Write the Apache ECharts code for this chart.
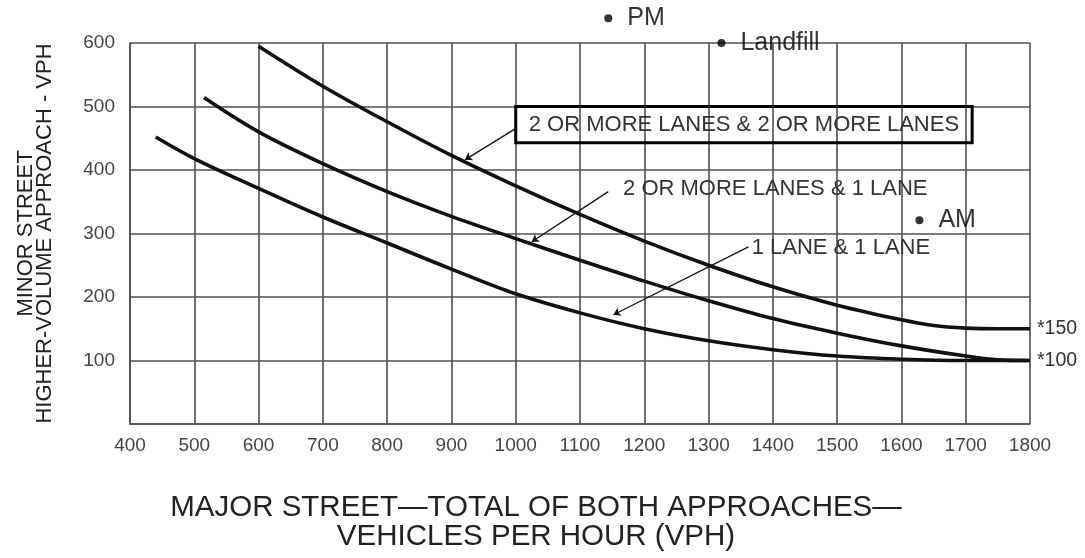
<!DOCTYPE html>
<html><head><meta charset="utf-8">
<script src="https://cdn.jsdelivr.net/npm/echarts@6/dist/echarts.min.js"></script>
<style>html,body{margin:0;padding:0;background:#fff}#c{width:1085px;height:558px}</style>
</head><body><div id="c"></div>
<script>
// ---- data ----
const curveNames = ['2 OR MORE LANES & 2 OR MORE LANES', '2 OR MORE LANES & 1 LANE', '1 LANE & 1 LANE'];
const curve2and2 = [[600,595],[700,532],[800,476],[900,423],[1000,375],[1100,330],[1200,288],[1300,250],[1400,216],[1500,187],[1600,164],[1650,155],[1700,151],[1750,150],[1800,150]];
const curve2and1 = [[515,514],[600,460],[700,410],[800,366],[900,327],[1000,292],[1100,258],[1200,225],[1300,194],[1400,166],[1500,143],[1600,123],[1700,107],[1750,101],[1800,100]];
const curve1and1 = [[440,452],[500,418],[600,371],[700,326],[800,285],[900,244],[1000,205],[1100,175],[1200,150],[1300,131],[1400,117],[1500,107],[1600,102],[1700,100],[1800,100]];
const siteNames = ['PM', 'Landfill', 'AM'];
const siteMajor = [1144, 1320, 1628];
const siteMinor = [639, 600, 321];
const xTicks = [400,500,600,700,800,900,1000,1100,1200,1300,1400,1500,1600,1700,1800];
const yTicks = [0,100,200,300,400,500,600];
// annotation anchors, in data units
const boxCorners = [[1000,500],[1710,443]];
const labelAnchors = [[1167,370],[1367,277]];
const leaders = [[[1001,466],[921,416]], [[1144,366],[1025,287]], [[1362,279],[1152,172]]];

const FONT = '"Liberation Sans", Arial, Helvetica, sans-serif';
const chart = echarts.init(document.getElementById('c'), null, {renderer: 'canvas'});

const gridLine = {color: '#505050', width: 1.6};
const curveStyle = {color: '#111', width: 3.6};
const leaderLine = (seg) => ({
  silent: true, symbol: ['none', 'arrow'], symbolSize: 7,
  label: {show: false}, emphasis: {disabled: true},
  lineStyle: {color: '#111', width: 1.3, type: 'solid'},
  data: [[{coord: seg[0]}, {coord: seg[1]}]]
});
const textLabel = (anchor, text) => ({
  silent: true, symbol: 'circle', symbolSize: 0,
  label: {show: true, position: 'right', distance: 0, formatter: text,
          fontFamily: FONT, fontSize: 22, color: '#333'},
  data: [{coord: anchor}]
});
const curveSeries = (name, data) => ({
  type: 'line', name, data, showSymbol: false, smooth: 0.35,
  lineStyle: curveStyle, itemStyle: {color: '#111'}, silent: true, z: 3
});

const s1 = curveSeries(curveNames[0], curve2and2);
s1.markLine = leaderLine(leaders[0]);
s1.markArea = {
  silent: true,
  itemStyle: {color: 'rgba(0,0,0,0)', borderColor: '#000', borderWidth: 3},
  label: {show: true, position: 'inside', formatter: curveNames[0],
          fontFamily: FONT, fontSize: 22, color: '#333'},
  data: [[{coord: boxCorners[0]}, {coord: boxCorners[1]}]]
};
s1.endLabel = {show: true, formatter: p => '*' + p.value[1], distance: 7,
               fontFamily: FONT, fontSize: 19.5, color: '#333'};

const s2 = curveSeries(curveNames[1], curve2and1);
s2.markLine = leaderLine(leaders[1]);
s2.markPoint = textLabel(labelAnchors[0], curveNames[1]);
s2.endLabel = {show: true, formatter: p => '*' + p.value[1], distance: 7,
               fontFamily: FONT, fontSize: 19.5, color: '#333'};

const s3 = curveSeries(curveNames[2], curve1and1);
s3.markLine = leaderLine(leaders[2]);
s3.markPoint = textLabel(labelAnchors[1], curveNames[2]);

const sites = {
  type: 'scatter', name: 'Sites', clip: false, symbolSize: 8, z: 5,
  itemStyle: {color: '#000'},
  data: siteNames.map((n, i) => ({name: n, value: [siteMajor[i], siteMinor[i]]})),
  label: {show: true, position: 'right', distance: 15, formatter: p => p.name,
          fontFamily: FONT, fontSize: 25, color: '#000'}
};

chart.setOption({
  animation: false,
  backgroundColor: '#fff',
  grid: {left: 130, right: 55, top: 43, bottom: 134, containLabel: false, outerBoundsMode: 'none'},
  xAxis: {
    type: 'value', min: xTicks[0], max: xTicks[xTicks.length - 1], interval: 100,
    name: 'MAJOR STREET\u2014TOTAL OF BOTH APPROACHES\u2014\nVEHICLES PER HOUR (VPH)',
    nameLocation: 'middle', nameGap: 69,
    nameTextStyle: {fontFamily: FONT, fontSize: 29.5, lineHeight: 29, color: '#222', padding: [0, 88, 0, 0]},
    axisLine: {show: true, lineStyle: gridLine}, axisTick: {show: false},
    axisLabel: {fontFamily: FONT, fontSize: 19, color: '#444', margin: 12, formatter: v => String(v)},
    splitLine: {show: true, lineStyle: gridLine}
  },
  yAxis: {
    type: 'value', min: yTicks[0], max: yTicks[yTicks.length - 1], interval: 100,
    name: 'MINOR STREET\nHIGHER-VOLUME APPROACH - VPH',
    nameLocation: 'middle', nameGap: 76,
    nameTextStyle: {fontFamily: FONT, fontSize: 22, lineHeight: 19, color: '#222'},
    axisLine: {show: true, lineStyle: gridLine}, axisTick: {show: false},
    axisLabel: {fontFamily: FONT, fontSize: 19, color: '#444', margin: 15, showMinLabel: false,
                formatter: v => v === 0 ? '' : String(v)},
    splitLine: {show: true, lineStyle: gridLine}
  },
  series: [s1, s2, s3, sites]
});
</script></body></html>
